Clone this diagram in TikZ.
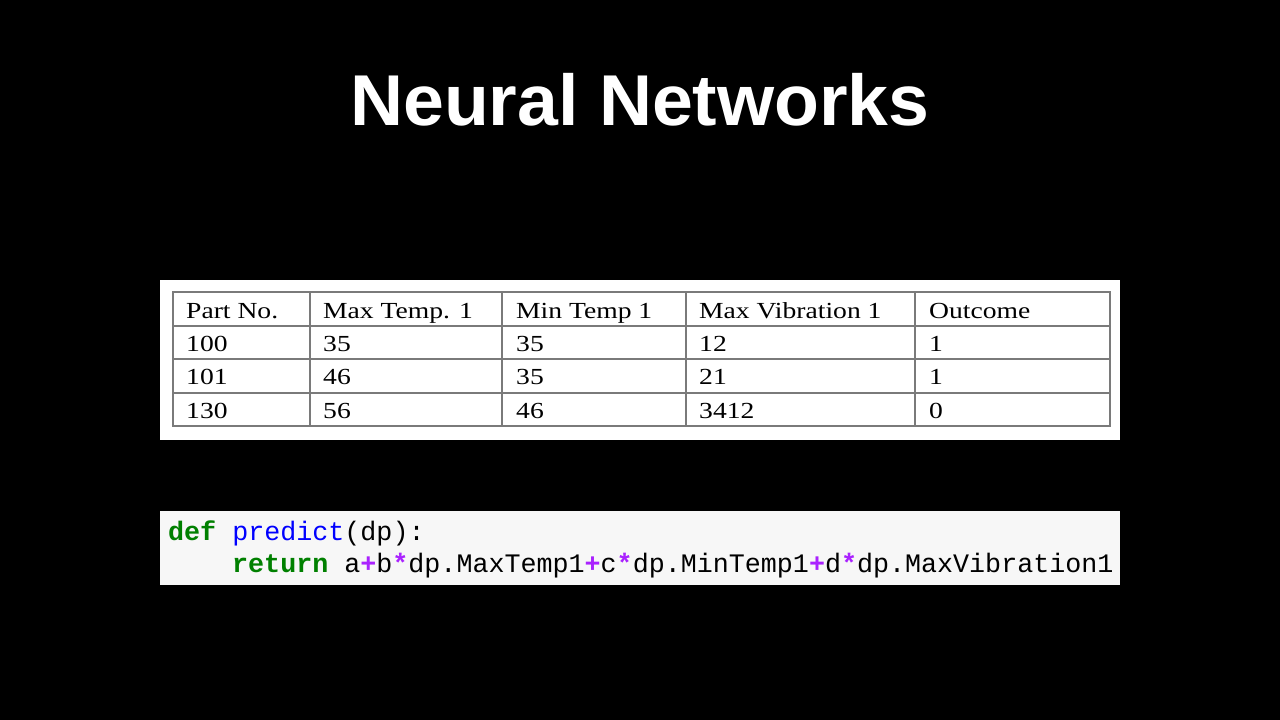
\documentclass[tikz,border=0pt]{standalone}
\usepackage{fontspec}
\newfontfamily\titlefont[FakeStretch=1.02]{Liberation Sans}
\newfontfamily\tabfont[FakeStretch=1.2]{Liberation Serif}
\newfontfamily\codefont{Liberation Mono}
\definecolor{kwgreen}{HTML}{008000}
\definecolor{fnblue}{HTML}{0000FF}
\definecolor{oppurple}{HTML}{AA22FF}
\definecolor{gridgray}{HTML}{7A7A7A}
\definecolor{codebg}{HTML}{F7F7F7}
\begin{document}
\begin{tikzpicture}[x=1pt,y=-1pt,
  cell/.style={anchor=base west,inner sep=0pt,font=\tabfont\fontsize{23}{23}\selectfont,text=black},
  codeline/.style={anchor=base west,inner sep=0pt,font=\codefont\fontsize{26.7}{26.7}\selectfont,text=black},
  grid/.style={draw=gridgray,line width=1.3pt}]
\fill[black] (0,0) rectangle (1280,720);
\useasboundingbox (0,0) rectangle (1280,720);
% title
\node[anchor=base,inner sep=0pt,text=white,font=\titlefont\bfseries\fontsize{72}{72}\selectfont] (title) at (640,125) {Neural Networks};
% table panel
\fill[white] (160,280) rectangle (1120,440);
\draw[grid] (173,292) rectangle (1110,426);
\foreach \yy in {326,359,393} \draw[grid] (173,\yy) -- (1110,\yy);
\foreach \xx in {310,502,686,915} \draw[grid] (\xx,292) -- (\xx,426);
% header
\node[cell] (h1) at (186,318.5) {Part No.};
\node[cell] (h2) at (323,318.5) {Max Temp. 1};
\node[cell] (h3) at (516,318.5) {Min Temp 1};
\node[cell] (h4) at (699,318.5) {Max Vibration 1};
\node[cell] (h5) at (929,318.5) {Outcome};
% rows
\node[cell] (r1c1) at (186,351) {100};
\node[cell] (r1c2) at (323,351) {35};
\node[cell] (r1c3) at (516,351) {35};
\node[cell] (r1c4) at (699,351) {12};
\node[cell] (r1c5) at (929,351) {1};
\node[cell] (r2c1) at (186,384.5) {101};
\node[cell] (r2c2) at (323,384.5) {46};
\node[cell] (r2c3) at (516,384.5) {35};
\node[cell] (r2c4) at (699,384.5) {21};
\node[cell] (r2c5) at (929,384.5) {1};
\node[cell] (r3c1) at (186,418) {130};
\node[cell] (r3c2) at (323,418) {56};
\node[cell] (r3c3) at (516,418) {46};
\node[cell] (r3c4) at (699,418) {3412};
\node[cell] (r3c5) at (929,418) {0};
% code panel
\fill[codebg] (160,511) rectangle (1120,585);
\node[codeline] (code1) at (168,540) {\textcolor{kwgreen}{\bfseries def} \textcolor{fnblue}{predict}(dp):};
\node[codeline] (code2) at (232,572) {\textcolor{kwgreen}{\bfseries return} a\textcolor{oppurple}{\bfseries +}b\textcolor{oppurple}{\bfseries *}dp.MaxTemp1\textcolor{oppurple}{\bfseries +}c\textcolor{oppurple}{\bfseries *}dp.MinTemp1\textcolor{oppurple}{\bfseries +}d\textcolor{oppurple}{\bfseries *}dp.MaxVibration1};
\end{tikzpicture}
\end{document}
